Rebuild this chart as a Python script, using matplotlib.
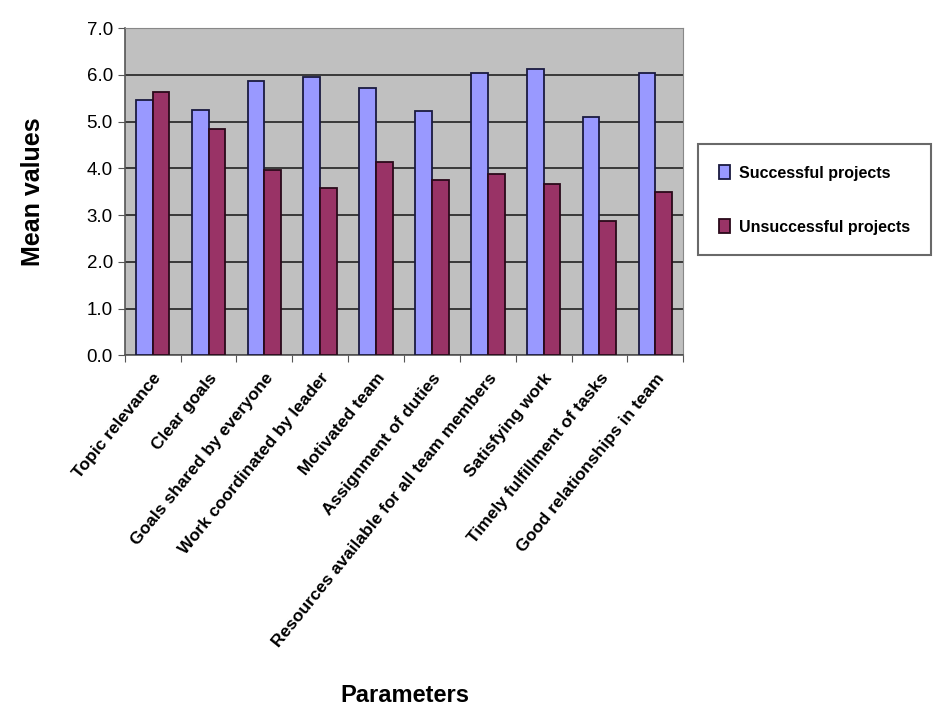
import numpy as np
import matplotlib.pyplot as plt
from matplotlib.ticker import MultipleLocator, FormatStrFormatter

plt.rcParams['font.family'] = ['Liberation Sans', 'DejaVu Sans']

parameters = [
    'Topic relevance',
    'Clear goals',
    'Goals shared by everyone',
    'Work coordinated by leader',
    'Motivated team',
    'Assignment of duties',
    'Resources available for all team members',
    'Satisfying work',
    'Timely fulfillment of tasks',
    'Good relationships in team',
]
successful = [5.46, 5.25, 5.88, 5.95, 5.73, 5.22, 6.04, 6.12, 5.11, 6.04]
unsuccessful = [5.63, 4.84, 3.97, 3.57, 4.14, 3.75, 3.89, 3.66, 2.88, 3.50]

x = np.arange(len(parameters))
width = 0.3

fig = plt.figure(figsize=(9.45, 7.25), dpi=100)
ax = fig.add_axes([0.132, 0.510, 0.591, 0.451])
ax.set_facecolor('#C0C0C0')

ax.bar(x - width / 2, successful, width, color='#9999FF', edgecolor='#1a1a40',
       linewidth=1.3, label='Successful projects', zorder=3)
ax.bar(x + width / 2, unsuccessful, width, color='#993366', edgecolor='#2a0a1a',
       linewidth=1.3, label='Unsuccessful projects', zorder=3)

ax.set_xlim(-0.5, len(parameters) - 0.5)
ax.set_ylim(0, 7)
ax.yaxis.set_major_locator(MultipleLocator(1.0))
ax.yaxis.set_major_formatter(FormatStrFormatter('%.1f'))
ax.grid(axis='y', color='#222222', linewidth=1.2, zorder=1)

# category ticks sit between groups, labels in the middle
ax.set_xticks(np.arange(len(parameters) + 1) - 0.5)
ax.set_xticklabels([])
ax.set_xticks(x, minor=True)
ax.set_xticklabels(parameters, minor=True, rotation=51, ha='right',
                   rotation_mode='anchor', fontsize=12.5, fontweight='bold')
ax.tick_params(axis='x', which='minor', length=0, pad=11)
ax.tick_params(axis='x', which='major', length=5, color='#555555')
ax.tick_params(axis='y', labelsize=13.5, length=5, color='#555555')

for side in ['top', 'right']:
    ax.spines[side].set_color('#888888')
for side in ['left', 'bottom']:
    ax.spines[side].set_color('#555555')
    ax.spines[side].set_linewidth(1.2)

ax.set_ylabel('Mean values', fontsize=18, fontweight='bold')
ax.yaxis.set_label_coords(-0.143, 0.5)
fig.text(0.428, 0.04, 'Parameters', fontsize=17, fontweight='bold',
         ha='center', va='center')

leg = ax.legend(loc='upper left', bbox_to_anchor=(0.730, 0.812),
                bbox_transform=fig.transFigure,
                prop={'weight': 'bold', 'size': 11.5}, frameon=True,
                fancybox=False, edgecolor='#444444', handlelength=0.7,
                handleheight=1.0, labelspacing=2.4, borderpad=1.3,
                handletextpad=0.6)
leg.get_frame().set_linewidth(1.5)

fig.savefig('out.png', dpi=100)
